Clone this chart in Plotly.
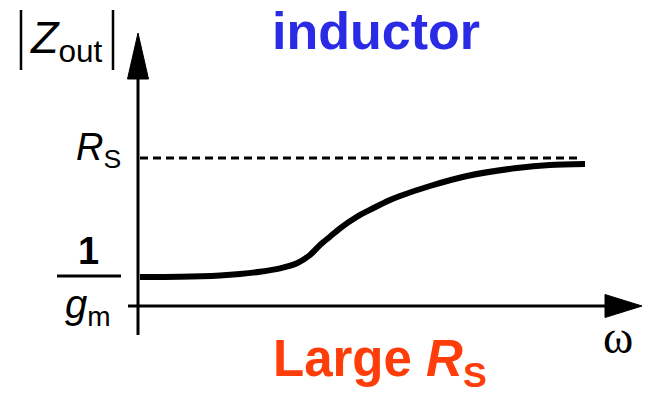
import plotly.graph_objects as go

# ---- data (schematic units) ----
omega = [0.2, 4.2, 8.2, 10.2, 12.2, 14.2, 15.9, 17.2, 18.2, 19.2, 20.2, 21.9, 23.5, 25.2, 26.2, 29.2, 32.9, 37.9, 41.2, 44.7]
zout = [2.9, 2.92, 3.05, 3.2, 3.43, 3.77, 4.27, 5.1, 6.1, 6.93, 7.77, 8.93, 9.77, 10.6, 11.0, 12.0, 13.0, 13.8, 14.1, 14.2]
rs_level = 14.8
inv_gm_level = 2.9
dash_end = 44.2

x_axis_start, x_axis_end, x_head_base = -1.0, 50.4, 46.7
y_axis_start, y_axis_end, y_head_base = -2.9, 27.3, 22.7

BLACK = "#000000"
BLUE = "#2b2be6"
RED = "#ff3d0a"

fig = go.Figure()

fig.add_trace(go.Scatter(x=omega, y=zout, mode="lines",
                         line=dict(color=BLACK, width=6, shape="spline", smoothing=0.8),
                         hoverinfo="skip", showlegend=False))

shapes = [
    # x axis
    dict(type="line", x0=x_axis_start, x1=x_head_base, y0=0, y1=0,
         line=dict(color=BLACK, width=3)),
    dict(type="path", path=f"M {x_head_base},{-1.15} L {x_axis_end},0 L {x_head_base},{1.15} Z",
         fillcolor=BLACK, line=dict(color=BLACK, width=1)),
    # y axis
    dict(type="line", x0=0, x1=0, y0=y_axis_start, y1=y_head_base,
         line=dict(color=BLACK, width=3)),
    dict(type="path", path=f"M {-1.05},{y_head_base} L 0,{y_axis_end} L {1.05},{y_head_base} Z",
         fillcolor=BLACK, line=dict(color=BLACK, width=1)),
    # Rs dashed line
    dict(type="line", x0=0.2, x1=dash_end, y0=rs_level, y1=rs_level,
         line=dict(color=BLACK, width=3, dash="8px,5px")),
    # fraction bar 1/gm
    dict(type="line", x0=-8.1, x1=-1.7, y0=inv_gm_level + 0.1, y1=inv_gm_level + 0.1,
         line=dict(color=BLACK, width=3)),
    # |Z| bars
    dict(type="line", x0=-11.7, x1=-11.7, y0=23.6, y1=29.6, line=dict(color=BLACK, width=2.5)),
    dict(type="line", x0=-2.5, x1=-2.5, y0=23.6, y1=29.6, line=dict(color=BLACK, width=2.5)),
]

SANS = "Liberation Sans, Arial, sans-serif"
annotations = [
    dict(x=23.8, y=27.5, text="<b>inductor</b>", showarrow=False,
         font=dict(family=SANS, size=52, color=BLUE), xanchor="center", yanchor="middle"),
    dict(x=13.3, y=-5.6, text="<b>Large <i>R</i><sub>S</sub></b>", showarrow=False,
         font=dict(family=SANS, size=51, color=RED), xanchor="left", yanchor="middle"),
    dict(x=48.0, y=-3.1, text="ω", showarrow=False,
         font=dict(family="Liberation Serif, Times New Roman, serif", size=46, color=BLACK),
         xanchor="center", yanchor="middle"),
    dict(x=-11.0, y=26.6, text="<i>Z</i><sub>out</sub>", showarrow=False,
         font=dict(family=SANS, size=45, color=BLACK), xanchor="left", yanchor="middle"),
    dict(x=-1.5, y=15.6, text="<i>R</i><sub>S</sub>", showarrow=False,
         font=dict(family=SANS, size=38, color=BLACK), xanchor="right", yanchor="middle"),
    dict(x=-5.0, y=5.5, text="<b>1</b>", showarrow=False,
         font=dict(family=SANS, size=38, color=BLACK), xanchor="center", yanchor="middle"),
    dict(x=-5.0, y=-0.1, text="<i>g</i><sub>m</sub>", showarrow=False,
         font=dict(family=SANS, size=40, color=BLACK), xanchor="center", yanchor="middle"),
]

fig.update_layout(
    width=645, height=396,
    margin=dict(l=0, r=0, t=0, b=0),
    paper_bgcolor="white", plot_bgcolor="white",
    xaxis=dict(range=[-13.8, 50.7], visible=False, fixedrange=True),
    yaxis=dict(range=[-9.0, 30.6], visible=False, fixedrange=True),
    shapes=shapes, annotations=annotations,
    showlegend=False,
)

fig.write_html("out.html", config={"displayModeBar": False, "staticPlot": True},
               post_script="document.body.style.margin='0px';document.body.style.overflow='hidden';")
